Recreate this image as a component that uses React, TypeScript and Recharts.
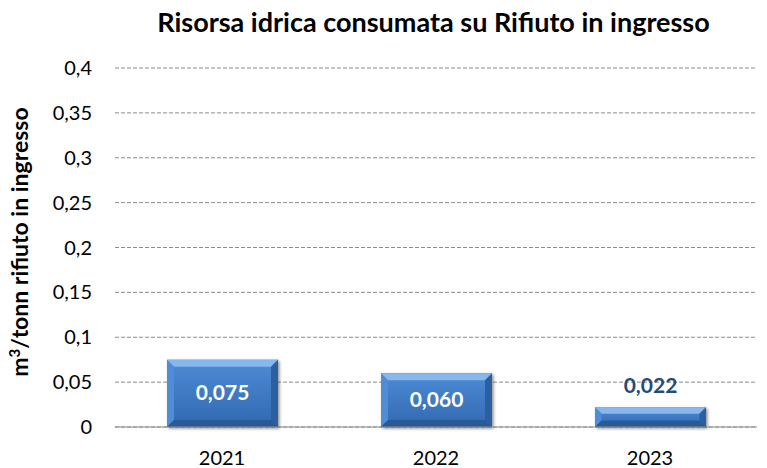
import { BarChart, Bar, XAxis, YAxis, CartesianGrid, LabelList } from "recharts";

const years = ["2021", "2022", "2023"];
const consumo = [0.075, 0.06, 0.022];
const yTicks = [0, 0.05, 0.1, 0.15, 0.2, 0.25, 0.3, 0.35, 0.4];

const data = years.map((y, i) => ({ year: y, value: consumo[i] }));

const font = "Lato, 'Open Sans', sans-serif";
const fmtTick = (v: number) => String(v).replace(".", ",");
const fmtVal = (v: number) => v.toFixed(3).replace(".", ",");

const ValueLabel = (props: any) => {
  const { x, y, width, height, value } = props;
  const cx = x + width / 2;
  const inside = height > 40;
  return (
    <text
      x={cx}
      y={inside ? y + height / 2 + 7 : y - 14}
      textAnchor="middle"
      fill={inside ? "#ffffff" : "#254A7C"}
      fontSize={21}
      fontWeight={700}
      fontFamily={font}
    >
      {fmtVal(value)}
    </text>
  );
};

// bevelled bar, like the office "bevel" look
const BevelBar = (props: any) => {
  const { x, y, width: w, height: h } = props;
  if (!h || h <= 0) return null;
  const b = Math.min(7, h / 3);
  return (
    <g filter="url(#shadow)">
      <rect x={x} y={y} width={w} height={h} fill="url(#barFill)" />
      <polygon points={`${x},${y} ${x + w},${y} ${x + w - b},${y + b} ${x + b},${y + b}`} fill="#86B8EE" />
      <polygon points={`${x},${y} ${x + b},${y + b} ${x + b},${y + h - b} ${x},${y + h}`} fill="#4F8DD6" />
      <polygon points={`${x + w},${y} ${x + w - b},${y + b} ${x + w - b},${y + h - b} ${x + w},${y + h}`} fill="#2C609F" />
      <polygon points={`${x},${y + h} ${x + b},${y + h - b} ${x + w - b},${y + h - b} ${x + w},${y + h}`} fill="#2A5A96" />
    </g>
  );
};

export default function App() {
  return (
    <div style={{ position: "relative", width: 767, height: 468, margin: "-8px 0 0 -8px", background: "#fff" }}>
      <div
        style={{
          position: "absolute",
          top: 5,
          left: 100,
          width: 667,
          textAlign: "center",
          fontFamily: font,
          fontWeight: 700,
          fontSize: 27,
          color: "#000",
        }}
      >
        Risorsa idrica consumata su Rifiuto in ingresso
      </div>
      <div
        style={{
          position: "absolute",
          left: 19,
          top: 242,
          transform: "translate(-50%, -50%) rotate(-90deg)",
          whiteSpace: "nowrap",
          fontFamily: font,
          fontWeight: 700,
          fontSize: 23,
        }}
      >
        m<sup style={{ fontSize: 15 }}>3</sup>/tonn rifiuto in ingresso
      </div>
      <BarChart width={767} height={468} data={data} margin={{ top: 68, right: 10, bottom: 11, left: 0 }}>
        <defs>
          <linearGradient id="barFill" x1="0" y1="0" x2="0" y2="1">
            <stop offset="0%" stopColor="#4E8BD6" />
            <stop offset="100%" stopColor="#3169B0" />
          </linearGradient>
          <filter id="shadow" x="-10%" y="-10%" width="130%" height="130%">
            <feDropShadow dx="1.5" dy="1.5" stdDeviation="1.5" floodColor="#000" floodOpacity="0.45" />
          </filter>
        </defs>
        <CartesianGrid vertical={false} stroke="#8c8c8c" strokeDasharray="4 2" />
        <XAxis
          dataKey="year"
          axisLine={{ stroke: "#8c8c8c" }}
          tickLine={false}
          tick={{ fontSize: 20, fill: "#000", fontFamily: font }}
          tickMargin={18}
        />
        <YAxis
          width={115}
          domain={[0, 0.4]}
          ticks={yTicks}
          tickFormatter={fmtTick}
          axisLine={false}
          tickLine={false}
          tickMargin={17}
          tick={{ fontSize: 20, fill: "#000", fontFamily: font }}
        />
        <Bar dataKey="value" barSize={111} shape={BevelBar} isAnimationActive={false}>
          <LabelList dataKey="value" content={ValueLabel} />
        </Bar>
      </BarChart>
    </div>
  );
}
